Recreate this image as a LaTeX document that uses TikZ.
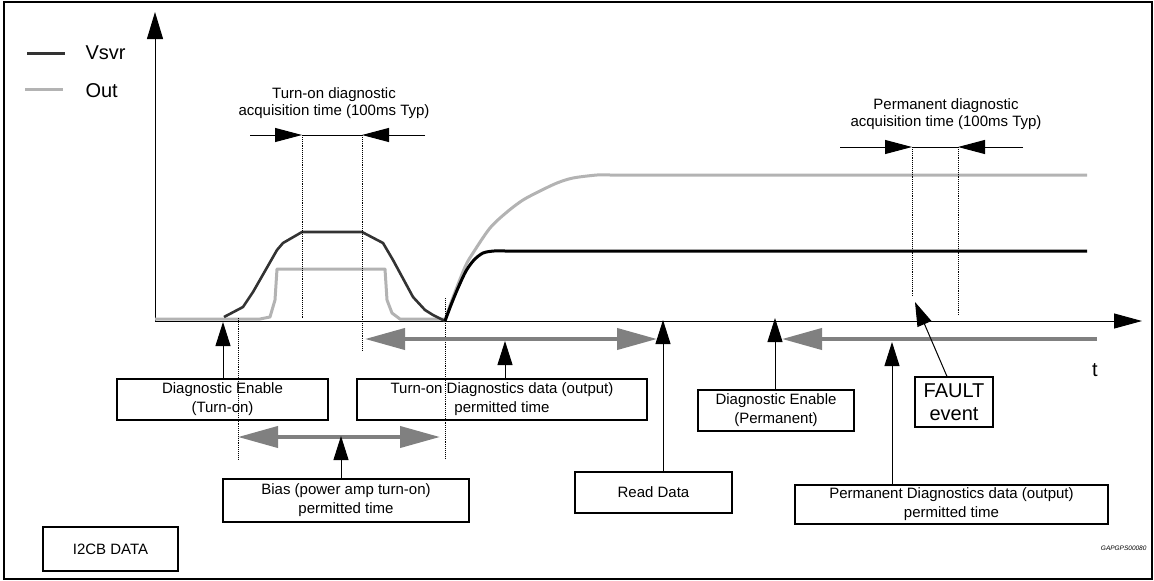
\documentclass[tikz,border=0pt]{standalone}
\usepackage{fontspec}
\setmainfont{Liberation Sans}
\usepackage{tikz}
\usetikzlibrary{arrows}
\usetikzlibrary{arrows.meta}
\usetikzlibrary{calc}
\definecolor{vsvrDark}{HTML}{333333}
\definecolor{outGray}{HTML}{B3B3B3}
\definecolor{spanGray}{HTML}{808080}
\tikzset{infobox/.style={draw, line width=1.1pt, inner sep=0pt, align=center, font=\fontsize{15}{19}\selectfont}}
\tikzset{upArr/.style={line width=1pt, -{Triangle[length=24pt,width=15pt]}}}
\tikzset{acqArr/.style={line width=1pt, -{Triangle[length=27pt,width=14pt]}}}
\tikzset{spanArr/.style={draw=spanGray, line width=4pt, {Triangle[length=40pt,width=21pt]}-{Triangle[length=40pt,width=21pt]}}}
\tikzset{guide/.style={line width=0.9pt, densely dotted}}

\begin{document}
\begin{tikzpicture}[x=1pt,y=-1pt]
    \useasboundingbox (0,0) rectangle (1154,581);
    \draw[line width=1.6pt] (4,2) rectangle (1152,579);
    % axes
    \coordinate (org) at (155,321);
    \draw[line width=1pt, -{Triangle[length=27pt,width=16pt]}] (org) -- (155,12);
    \draw[line width=1pt, -{Triangle[length=28pt,width=15pt]}] (org) -- (1142,321);
    \node[font=\fontsize{20}{24}\selectfont] (tLab) at (1095,370) {t};
    % legend
    \draw[vsvrDark, line width=3pt] (27,53) -- (65,53);
    \draw[outGray, line width=3pt] (25,89) -- (63,89);
    \node[anchor=west, font=\fontsize{20}{24}\selectfont] (legV) at (82,53) {Vsvr};
    \node[anchor=west, font=\fontsize{20}{24}\selectfont] (legO) at (82,91) {Out};
    % Out signal
    \draw[outGray, line width=3pt, line join=round]
      (155,319) -- (260,319) -- (270,317) -- (275,300) -- (277,269) -- (385,269)
      -- (387,300) -- (392,313) -- (400,319) -- (445,319);
    \draw[outGray, line width=3pt, line join=round]
      plot[smooth] coordinates {(445,320) (452,300) (465,267) (473,253) (490,228)
        (507,212) (523,200) (540,191) (557,183) (573,178) (597,175) (610,175)}
      -- (1087,175);
    % Vsvr signal
    \draw[vsvrDark, line width=2.6pt, line join=round]
      (224,317) -- (243,307) -- (253,292) -- (277,250) -- (283,243) -- (302,232)
      -- (362,232) -- (383,243) -- (393,260) -- (413,297) -- (425,310)
      -- (433,315) -- (445,321);
    \draw[line width=3pt, line join=round]
      plot[smooth] coordinates {(445,321) (451,305) (458,288) (466,271) (474,260)
        (483,253) (494,251) (505,251)} -- (1087,251);
    % dotted guides
    \draw[guide] (302,135) -- (302,318);
    \draw[guide] (362,135) -- (362,350);
    \draw[guide] (238,318) -- (238,460);
    \draw[guide] (445,298) -- (445,458);
    \draw[guide] (912,147) -- (912,297);
    \draw[guide] (958,147) -- (958,315);
    % acquisition times
    \node[align=center, font=\fontsize{15}{17}\selectfont] (acqOn) at (334,103)
      {Turn-on diagnostic\\acquisition time (100ms Typ)};
    \node[align=center, font=\fontsize{15}{17}\selectfont] (acqPerm) at (946,114)
      {Permanent diagnostic\\acquisition time (100ms Typ)};
    \coordinate (onA) at (250,135);
    \coordinate (onB) at (302,135);
    \coordinate (onC) at (362,135);
    \coordinate (onD) at (425,135);
    \draw[acqArr] (onA) -- (onB);
    \draw[line width=1pt] (onB) -- (onC);
    \draw[acqArr] (onD) -- (onC);
    \coordinate (pmA) at (840,147);
    \coordinate (pmB) at (912,147);
    \coordinate (pmC) at (958,147);
    \coordinate (pmD) at (1023,147);
    \draw[acqArr] (pmA) -- (pmB);
    \draw[line width=1pt] (pmB) -- (pmC);
    \draw[acqArr] (pmD) -- (pmC);
    % permitted time spans
    \coordinate (dOnL) at (365,339);
    \coordinate (dOnR) at (657,339);
    \coordinate (biasL) at (238,437);
    \coordinate (biasR) at (440,437);
    \coordinate (dPmL) at (782,339);
    \coordinate (dPmR) at (1097,339);
    \draw[spanArr] (dOnL) -- (dOnR);
    \draw[spanArr] (biasL) -- (biasR);
    \draw[spanArr, -] (dPmR) -- ([xshift=35pt]dPmL);
    \draw[spanArr, {Triangle[length=40pt,width=21pt]}-] (dPmL) -- ([xshift=36pt]dPmL);
    % label boxes
    \foreach \x/\y/\w/\h/\lab/\tx in {
      222.5/399.5/211pt/41pt/enOn/Diagnostic Enable\\(Turn-on),
      502/399.5/290pt/41pt/dataOn/Turn-on Diagnostics data (output)\\permitted time,
      346/500.5/246pt/43pt/bias/Bias (power amp turn-on)\\permitted time,
      653.5/492.5/157pt/41pt/readData/Read Data,
      776/410.5/156pt/41pt/enPerm/Diagnostic Enable\\(Permanent),
      951.5/504.5/313pt/39pt/dataPerm/Permanent Diagnostics data (output)\\permitted time,
      110.5/549/135pt/44pt/i2cb/I2CB DATA%
    } {
      \node[infobox, minimum width=\w, minimum height=\h] (\lab) at (\x, \y) {\tx};
    }
    \node[infobox, minimum width=78pt, minimum height=50pt,
      font=\fontsize{20}{23}\selectfont] (fault) at (954,402) {FAULT\\event};
    \node[anchor=east, font=\fontsize{6.5}{8}\itshape] (code) at (1150,548) {GAPGPS00080};
    % pointers
    \coordinate (tEnOn) at (223,322);
    \coordinate (tDataOn) at (505,341);
    \coordinate (tBias) at (341,436);
    \coordinate (tRead) at (663,320);
    \coordinate (tEnPerm) at (775,318);
    \coordinate (tDataPerm) at (892,342);
    \coordinate (tFault) at (915,302);
    \draw[upArr] (enOn.north -| tEnOn) -- (tEnOn);
    \draw[upArr] (dataOn.north -| tDataOn) -- (tDataOn);
    \draw[upArr] (bias.north -| tBias) -- (tBias);
    \draw[upArr] (readData.north -| tRead) -- (tRead);
    \draw[upArr] (enPerm.north -| tEnPerm) -- (tEnPerm);
    \draw[upArr] (dataPerm.north -| tDataPerm) -- (tDataPerm);
    \draw[upArr] ([xshift=-7pt]fault.north) -- (tFault);
\end{tikzpicture}
\end{document}
